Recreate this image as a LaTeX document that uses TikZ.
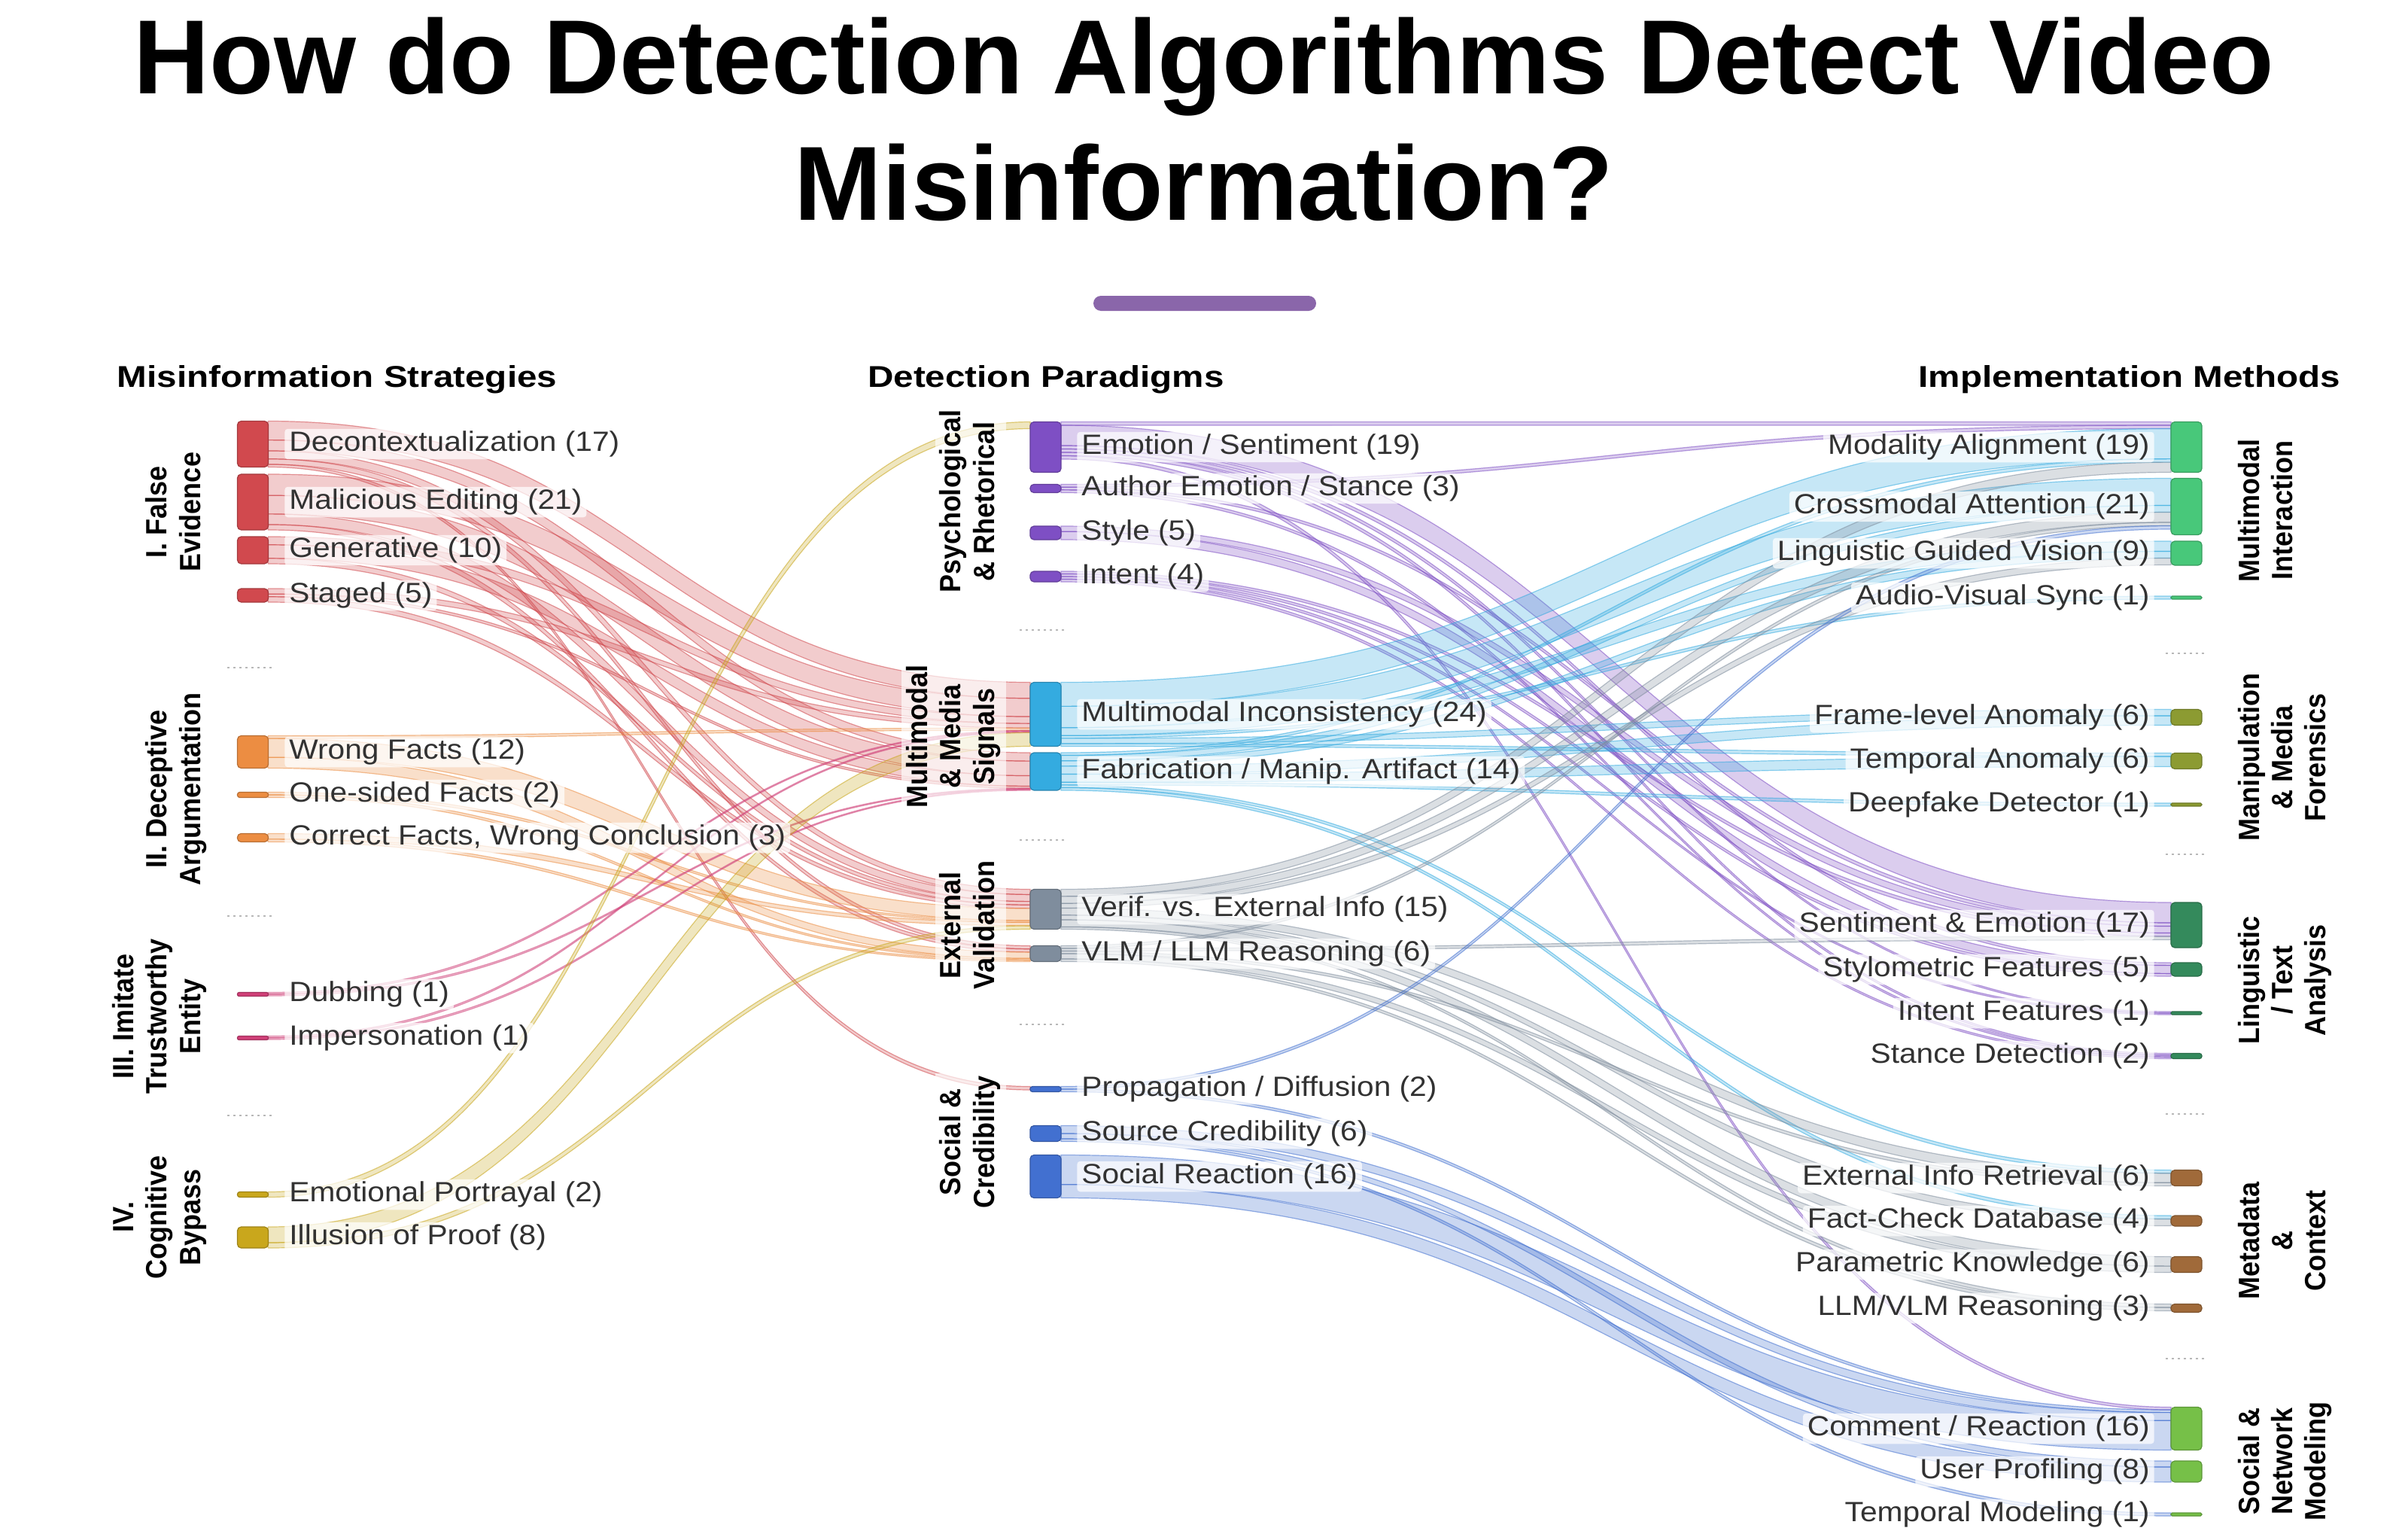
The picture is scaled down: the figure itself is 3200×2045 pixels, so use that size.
\documentclass[tikz,border=0pt]{standalone}
\usepackage{fontspec}
\usepackage{graphicx}
\setmainfont{Liberation Sans}
\newfontfamily\labfont[FakeStretch=1.1]{Liberation Sans}
\newfontfamily\headfont[FakeStretch=1.19]{Liberation Sans}
\usetikzlibrary{calc}
\pgfdeclarelayer{back}
\pgfdeclarelayer{links}
\pgfsetlayers{back,links,main}

\definecolor{cRed}{RGB}{209,73,78}
\definecolor{cOrange}{RGB}{236,141,66}
\definecolor{cPink}{RGB}{208,64,120}
\definecolor{cYellow}{RGB}{201,167,28}
\definecolor{cPurple}{RGB}{126,79,196}
\definecolor{cCyan}{RGB}{52,171,224}
\definecolor{cGray}{RGB}{127,141,157}
\definecolor{cBlue}{RGB}{66,112,208}
\definecolor{cGreen}{RGB}{72,200,122}
\definecolor{cOlive}{RGB}{140,155,50}
\definecolor{cDGreen}{RGB}{52,138,92}
\definecolor{cBrown}{RGB}{160,106,58}
\definecolor{cLGreen}{RGB}{118,192,72}
\definecolor{txt}{RGB}{50,50,50}
\definecolor{accent}{RGB}{138,102,170}

\tikzset{
 barnode/.style={rectangle, inner sep=0pt, outer sep=0pt, minimum width=20.5pt, line width=0.6pt},
 linkband/.style={fill=#1, fill opacity=0.28, draw=#1, draw opacity=0.55, line width=0.6pt},
 lab/.style={font={\labfont\fontsize{18.5}{21}\selectfont}, text=txt, fill=white, fill opacity=0.72, text opacity=1, inner xsep=3pt, inner ysep=1.5pt, rounded corners=2pt},
 labL/.style={lab, anchor=west},
 labR/.style={lab, anchor=east},
 grp/.style={rotate=90, anchor=base, inner sep=1.5pt, font={\bfseries\fontsize{18}{20.5}\selectfont}, text=black},
 grpbg/.style={grp, fill=white, fill opacity=0.65, text opacity=1},
 head/.style={anchor=base, font={\headfont\bfseries\fontsize{20}{24}\selectfont}, text=black},
 sepline/.style={draw=black!28, line width=1pt, dash pattern=on 1.5pt off 2.5pt},
}

\newcommand\grplab[2]{\scalebox{1}[1.08]{\begin{tabular}[#1]{@{}c@{}}#2\end{tabular}}}

\newcommand\skadd[2]{%
  \pgfmathsetmacro\sktmp{\csname #1\endcsname+#2}%
  \expandafter\xdef\csname #1\endcsname{\sktmp}}

\newcommand\mkbar[5]{%
  \expandafter\xdef\csname skh#1\endcsname{#4}%
  \expandafter\xdef\csname skoo#1\endcsname{0}%
  \expandafter\xdef\csname skio#1\endcsname{0}%
  \expandafter\xdef\csname skout#1\endcsname{0}%
  \expandafter\xdef\csname skin#1\endcsname{0}%
  \pgfmathsetmacro\skr{min(2.5,#4*0.22)}%
  \node[barnode, fill=#5, draw=#5!78!black, minimum height=#4*0.5pt, rounded corners=\skr pt] (#1) at (#2,#3) {};}

\newcommand\sklink[4]{%
  \pgfmathsetmacro\ks{min(4.5,\csname skh#2\endcsname/\csname skout#2\endcsname)}%
  \pgfmathsetmacro\kt{min(4.5,\csname skh#3\endcsname/\csname skin#3\endcsname)}%
  \pgfmathsetmacro\sa{\csname skoo#2\endcsname}%
  \pgfmathsetmacro\sw{#4*\ks}%
  \pgfmathsetmacro\ta{\csname skio#3\endcsname}%
  \pgfmathsetmacro\tw{#4*\kt}%
  \path[linkband=#1] let \p1=(#2.north east), \p2=(#3.north west) in
    (\x1,{\y1-\sa*0.5pt})
    .. controls ({(\x1+\x2)/2},{\y1-\sa*0.5pt}) and ({(\x1+\x2)/2},{\y2-\ta*0.5pt}) ..
    (\x2,{\y2-\ta*0.5pt})
    -- (\x2,{\y2-(\ta+\tw)*0.5pt})
    .. controls ({(\x1+\x2)/2},{\y2-(\ta+\tw)*0.5pt}) and ({(\x1+\x2)/2},{\y1-(\sa+\sw)*0.5pt}) ..
    (\x1,{\y1-(\sa+\sw)*0.5pt}) -- cycle;
  \pgfmathsetmacro\sktmp{\sa+\sw}\expandafter\xdef\csname skoo#2\endcsname{\sktmp}%
  \pgfmathsetmacro\sktmp{\ta+\tw}\expandafter\xdef\csname skio#3\endcsname{\sktmp}%
}

\newcommand\sklinks{%
\sklk{cRed}{dec}{mi}{7}\sklk{cRed}{dec}{fab}{4}\sklk{cRed}{dec}{ver}{3}\sklk{cRed}{dec}{vlm}{2}\sklk{cRed}{dec}{pro}{1}%
\sklk{cRed}{mal}{mi}{8}\sklk{cRed}{mal}{fab}{7}\sklk{cRed}{mal}{ver}{4}\sklk{cRed}{mal}{vlm}{2}%
\sklk{cRed}{gen}{mi}{3}\sklk{cRed}{gen}{fab}{5}\sklk{cRed}{gen}{ver}{2}%
\sklk{cRed}{stg}{mi}{2}\sklk{cRed}{stg}{fab}{1}\sklk{cRed}{stg}{ver}{2}%
\sklk{cOrange}{wrf}{mi}{1}\sklk{cOrange}{wrf}{ver}{7}\sklk{cOrange}{wrf}{vlm}{4}%
\sklk{cOrange}{one}{ver}{1}\sklk{cOrange}{one}{vlm}{1}%
\sklk{cOrange}{cor}{ver}{2}\sklk{cOrange}{cor}{vlm}{1}%
\sklk{cPink}{dub}{mi}{0.5}\sklk{cPink}{dub}{fab}{0.5}%
\sklk{cPink}{imp}{mi}{0.5}\sklk{cPink}{imp}{fab}{0.5}%
\sklk{cYellow}{emo}{es}{2}%
\sklk{cYellow}{ill}{mi}{6}\sklk{cYellow}{ill}{ver}{2}%
\sklk{cPurple}{es}{moa}{1}\sklk{cPurple}{es}{sae}{6}\sklk{cPurple}{es}{stf}{1}\sklk{cPurple}{es}{inf}{1}\sklk{cPurple}{es}{std}{1}\sklk{cPurple}{es}{crr}{1}%
\sklk{cPurple}{aes}{moa}{1}\sklk{cPurple}{aes}{sae}{1}\sklk{cPurple}{aes}{std}{1}%
\sklk{cPurple}{sty}{sae}{2}\sklk{cPurple}{sty}{stf}{3}%
\sklk{cPurple}{int}{sae}{1}\sklk{cPurple}{int}{stf}{1}\sklk{cPurple}{int}{inf}{1}\sklk{cPurple}{int}{std}{1}%
\sklk{cCyan}{mi}{moa}{9}\sklk{cCyan}{mi}{cma}{8}\sklk{cCyan}{mi}{lgv}{3}\sklk{cCyan}{mi}{avs}{1}\sklk{cCyan}{mi}{fla}{2}\sklk{cCyan}{mi}{tan}{1}%
\sklk{cCyan}{fab}{moa}{1}\sklk{cCyan}{fab}{cma}{2}\sklk{cCyan}{fab}{lgv}{2}\sklk{cCyan}{fab}{fla}{3}\sklk{cCyan}{fab}{tan}{3}\sklk{cCyan}{fab}{dfd}{1}\sklk{cCyan}{fab}{eir}{1}\sklk{cCyan}{fab}{fcd}{1}%
\sklk{cGray}{ver}{moa}{3}\sklk{cGray}{ver}{cma}{3}\sklk{cGray}{ver}{lgv}{2}\sklk{cGray}{ver}{eir}{3}\sklk{cGray}{ver}{fcd}{2}\sklk{cGray}{ver}{pak}{3}\sklk{cGray}{ver}{llm}{1}%
\sklk{cGray}{vlm}{cma}{1}\sklk{cGray}{vlm}{sae}{1}\sklk{cGray}{vlm}{eir}{1}\sklk{cGray}{vlm}{pak}{2}\sklk{cGray}{vlm}{llm}{1}%
\sklk{cBlue}{pro}{cma}{1}\sklk{cBlue}{pro}{crr}{1}%
\sklk{cBlue}{src}{crr}{3}\sklk{cBlue}{src}{upr}{2}\sklk{cBlue}{src}{tmo}{1}%
\sklk{cBlue}{soc}{crr}{11}\sklk{cBlue}{soc}{upr}{5}%
}

\begin{document}
\begin{tikzpicture}[x=0.5pt,y=-0.5pt]
\useasboundingbox (0,0) rectangle (3200,2045);
\begin{pgfonlayer}{back}
\fill[white] (0,0) rectangle (3200,2045);
\end{pgfonlayer}

% ---------- title ----------
\node[anchor=base, font={\bfseries\fontsize{70}{84}\selectfont}] (title1) at (1600,124) {How do Detection Algorithms Detect Video};
\node[anchor=base, font={\bfseries\fontsize{70}{84}\selectfont}] (title2) at (1600,292) {Misinformation?};
\node[fill=accent, rounded corners=5pt, inner sep=0pt, minimum width=148pt, minimum height=10pt] (accentbar) at (1601,403) {};

% ---------- headings ----------
\node[head] (h1) at (448,514) {Misinformation Strategies};
\node[head] (h2) at (1390,514) {Detection Paradigms};
\node[head] (h3) at (2830,514) {Implementation Methods};

% ---------- bars: left ----------
\mkbar{dec}{336}{590}{61}{cRed}
\mkbar{mal}{336}{667}{74}{cRed}
\mkbar{gen}{336}{731}{36}{cRed}
\mkbar{stg}{336}{791}{18}{cRed}
\mkbar{wrf}{336}{999}{43}{cOrange}
\mkbar{one}{336}{1056}{7}{cOrange}
\mkbar{cor}{336}{1113}{11}{cOrange}
\mkbar{dub}{336}{1321}{5}{cPink}
\mkbar{imp}{336}{1379}{5}{cPink}
\mkbar{emo}{336}{1587}{7}{cYellow}
\mkbar{ill}{336}{1644}{28}{cYellow}
% ---------- bars: middle ----------
\mkbar{es}{1389.5}{594}{67}{cPurple}
\mkbar{aes}{1389.5}{649}{11}{cPurple}
\mkbar{sty}{1389.5}{708}{18}{cPurple}
\mkbar{int}{1389.5}{766}{14}{cPurple}
\mkbar{mi}{1389.5}{949}{85}{cCyan}
\mkbar{fab}{1389.5}{1025}{50}{cCyan}
\mkbar{ver}{1389.5}{1208}{53}{cGray}
\mkbar{vlm}{1389.5}{1267}{21}{cGray}
\mkbar{pro}{1389.5}{1447}{7}{cBlue}
\mkbar{src}{1389.5}{1506}{21}{cBlue}
\mkbar{soc}{1389.5}{1563}{57}{cBlue}
% ---------- bars: right ----------
\mkbar{moa}{2905.5}{594}{67}{cGreen}
\mkbar{cma}{2905.5}{673}{75}{cGreen}
\mkbar{lgv}{2905.5}{735}{32}{cGreen}
\mkbar{avs}{2905.5}{794}{4}{cGreen}
\mkbar{fla}{2905.5}{953}{21}{cOlive}
\mkbar{tan}{2905.5}{1011}{21}{cOlive}
\mkbar{dfd}{2905.5}{1069}{4}{cOlive}
\mkbar{sae}{2905.5}{1229}{60}{cDGreen}
\mkbar{stf}{2905.5}{1288}{18}{cDGreen}
\mkbar{inf}{2905.5}{1346}{4}{cDGreen}
\mkbar{std}{2905.5}{1403}{7}{cDGreen}
\mkbar{eir}{2905.5}{1565}{21}{cBrown}
\mkbar{fcd}{2905.5}{1622}{14}{cBrown}
\mkbar{pak}{2905.5}{1680}{21}{cBrown}
\mkbar{llm}{2905.5}{1738}{11}{cBrown}
\mkbar{crr}{2905.5}{1898}{57}{cLGreen}
\mkbar{upr}{2905.5}{1955}{28}{cLGreen}
\mkbar{tmo}{2905.5}{2012}{4}{cLGreen}

% ---------- links ----------
\def\sklk#1#2#3#4{\skadd{skout#2}{#4}\skadd{skin#3}{#4}}
\sklinks
\begin{pgfonlayer}{links}
\def\sklk#1#2#3#4{\sklink{#1}{#2}{#3}{#4}}
\sklinks
\end{pgfonlayer}

% ---------- separators ----------
\draw[sepline] (302,887) -- (363,887);
\draw[sepline] (302,1217) -- (363,1217);
\draw[sepline] (302,1482) -- (363,1482);
\draw[sepline] (1355,837) -- (1416,837);
\draw[sepline] (1355,1116) -- (1416,1116);
\draw[sepline] (1355,1361) -- (1416,1361);
\draw[sepline] (2878,868) -- (2933,868);
\draw[sepline] (2878,1135) -- (2933,1135);
\draw[sepline] (2878,1480) -- (2933,1480);
\draw[sepline] (2878,1805) -- (2933,1805);

% ---------- labels: left ----------
\node[labL] (ldec) at (378,590) {Decontextualization (17)};
\node[labL] (lmal) at (378,667) {Malicious Editing (21)};
\node[labL] (lgen) at (378,731) {Generative (10)};
\node[labL] (lstg) at (378,791) {Staged (5)};
\node[labL] (lwrf) at (378,999) {Wrong Facts (12)};
\node[labL] (lone) at (378,1056) {One-sided Facts (2)};
\node[labL] (lcor) at (378,1113) {Correct Facts, Wrong Conclusion (3)};
\node[labL] (ldub) at (378,1321) {Dubbing (1)};
\node[labL] (limp) at (378,1379) {Impersonation (1)};
\node[labL] (lemo) at (378,1587) {Emotional Portrayal (2)};
\node[labL] (lill) at (378,1644) {Illusion of Proof (8)};
% ---------- labels: middle ----------
\node[labL] (les) at (1431,594) {Emotion / Sentiment (19)};
\node[labL] (laes) at (1431,649) {Author Emotion / Stance (3)};
\node[labL] (lsty) at (1431,708) {Style (5)};
\node[labL] (lint) at (1431,766) {Intent (4)};
\node[labL] (lmi) at (1431,949) {Multimodal Inconsistency (24)};
\node[labL] (lfab) at (1431,1025) {Fabrication / Manip. Artifact (14)};
\node[labL] (lver) at (1431,1208) {Verif. vs. External Info (15)};
\node[labL] (lvlm) at (1431,1267) {VLM / LLM Reasoning (6)};
\node[labL] (lpro) at (1431,1447) {Propagation / Diffusion (2)};
\node[labL] (lsrc) at (1431,1506) {Source Credibility (6)};
\node[labL] (lsoc) at (1431,1563) {Social Reaction (16)};
% ---------- labels: right ----------
\node[labR] (lmoa) at (2863,594) {Modality Alignment (19)};
\node[labR] (lcma) at (2863,673) {Crossmodal Attention (21)};
\node[labR] (llgv) at (2863,735) {Linguistic Guided Vision (9)};
\node[labR] (lavs) at (2863,794) {Audio-Visual Sync (1)};
\node[labR] (lfla) at (2863,953) {Frame-level Anomaly (6)};
\node[labR] (ltan) at (2863,1011) {Temporal Anomaly (6)};
\node[labR] (ldfd) at (2863,1069) {Deepfake Detector (1)};
\node[labR] (lsae) at (2863,1229) {Sentiment \& Emotion (17)};
\node[labR] (lstf) at (2863,1288) {Stylometric Features (5)};
\node[labR] (linf) at (2863,1346) {Intent Features (1)};
\node[labR] (lstd) at (2863,1403) {Stance Detection (2)};
\node[labR] (leir) at (2863,1565) {External Info Retrieval (6)};
\node[labR] (lfcd) at (2863,1622) {Fact-Check Database (4)};
\node[labR] (lpak) at (2863,1680) {Parametric Knowledge (6)};
\node[labR] (lllm) at (2863,1738) {LLM/VLM Reasoning (3)};
\node[labR] (lcrr) at (2863,1898) {Comment / Reaction (16)};
\node[labR] (lupr) at (2863,1955) {User Profiling (8)};
\node[labR] (ltmo) at (2863,2012) {Temporal Modeling (1)};

% ---------- group labels ----------
\node[grp] (gfe) at (266,680) {\grplab{b}{I. False\\Evidence}};
\node[grp] (gda) at (266,1048) {\grplab{b}{II. Deceptive\\Argumentation}};
\node[grp] (git) at (266,1350) {\grplab{b}{III. Imitate\\Trustworthy\\Entity}};
\node[grp] (gcb) at (266,1617) {\grplab{b}{IV.\\Cognitive\\Bypass}};
\node[grpbg] (gpr) at (1321,666) {\grplab{b}{Psychological\\\& Rhetorical}};
\node[grpbg] (gmm) at (1321,978) {\grplab{b}{Multimodal\\\& Media\\Signals}};
\node[grpbg] (gev) at (1321,1229) {\grplab{b}{External\\Validation}};
\node[grpbg] (gsc) at (1321,1517) {\grplab{b}{Social \&\\Credibility}};
\node[grp] (gmi) at (3002,678) {\grplab{t}{Multimodal\\Interaction}};
\node[grp] (gmf) at (3002,1006) {\grplab{t}{Manipulation\\\& Media\\Forensics}};
\node[grp] (glt) at (3002,1302) {\grplab{t}{Linguistic\\/ Text\\Analysis}};
\node[grp] (gmc) at (3002,1648) {\grplab{t}{Metadata\\\&\\Context}};
\node[grp] (gsn) at (3002,1941) {\grplab{t}{Social \&\\Network\\Modeling}};
\end{tikzpicture}
\end{document}
